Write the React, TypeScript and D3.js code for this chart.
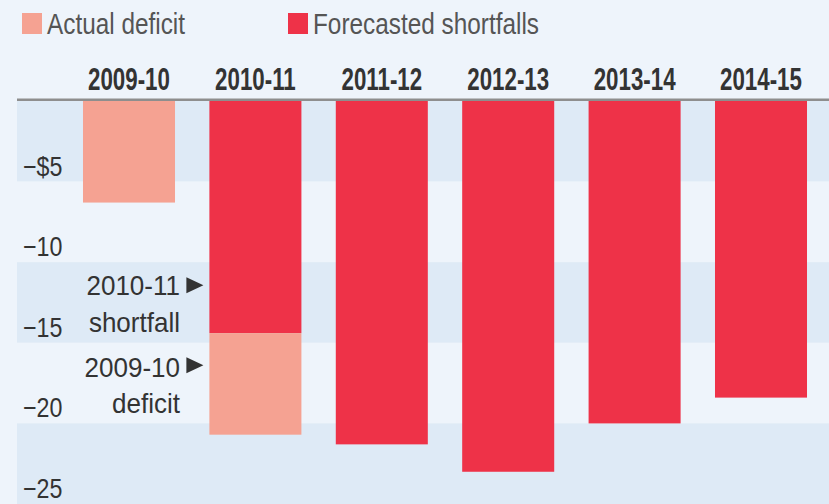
import React from "react";
import * as d3 from "d3";

const categories = ["2009-10", "2010-11", "2011-12", "2012-13", "2013-14", "2014-15"];
const shortfall = [0, 14.4, 21.3, 23.0, 20.0, 18.4];
const deficit = [6.3, 6.3, 0, 0, 0, 0];
const tickValues = [5, 10, 15, 20, 25];
const tickLabels = ["\u2212$5", "\u221210", "\u221215", "\u221220", "\u221225"];
const legendLabels = ["Actual deficit", "Forecasted shortfalls"];
const annotShortfall = ["2010-11", "shortfall"];
const annotDeficit = ["2009-10", "deficit"];

const W = 829;
const H = 504;
const RED = "#ee3248";
const PINK = "#f5a292";
const BG = "#eef4fb";
const BAND = "#deeaf6";
const FONT = "'Liberation Sans', Arial, sans-serif";

export default function App() {
  const x = d3
    .scaleBand<string>()
    .domain(categories)
    .range([65.8, 824.2])
    .paddingInner(0.272)
    .paddingOuter(0.136);
  const y = d3.scaleLinear().domain([0, 25]).range([101, 504]);

  const rows = categories.map((c, i) => ({ cat: c, shortfall: shortfall[i], deficit: deficit[i] }));
  const series = d3.stack<any>().keys(["shortfall", "deficit"])(rows);
  const colors: Record<string, string> = { shortfall: RED, deficit: PINK };

  const plotLeft = 17;
  const bands = tickValues.map((v, i) => ({ y0: i === 0 ? 0 : tickValues[i - 1], y1: v, dark: i % 2 === 0 }));

  const annX = 180;
  const c2 = categories[1];
  const redEnd = y(shortfall[1]);
  const triX = (x(c2) as number) - 23;

  return (
    <svg
      width={W}
      height={H}
      style={{ position: "absolute", left: 0, top: 0, display: "block" }}
      fontFamily={FONT}
    >
      <rect x={0} y={0} width={W} height={H} fill={BG} />
      {bands.map((b, i) => (
        <rect
          key={i}
          x={plotLeft}
          y={y(b.y0)}
          width={W - plotLeft}
          height={y(b.y1) - y(b.y0)}
          fill={b.dark ? BAND : BG}
        />
      ))}
      {tickValues.map((v, i) => (
        <text
          key={v}
          transform={`translate(23,${y(v) - 6}) scale(0.83,1)`}
          fontSize={28}
          fill="#333"
        >
          {tickLabels[i]}
        </text>
      ))}
      {series.map((s) =>
        s.map((d, i) =>
          d[1] - d[0] > 0 ? (
            <rect
              key={s.key + i}
              x={x(categories[i])}
              y={y(d[0])}
              width={x.bandwidth()}
              height={y(d[1]) - y(d[0])}
              fill={colors[s.key]}
            />
          ) : null
        )
      )}
      <line x1={plotLeft} x2={W} y1={99.8} y2={99.8} stroke="#8e8e8e" strokeWidth={2.6} />
      {categories.map((c) => (
        <text
          key={c}
          transform={`translate(${(x(c) as number) + x.bandwidth() / 2},90) scale(0.72,1)`}
          textAnchor="middle"
          fontSize={31}
          fontWeight="bold"
          fill="#333"
        >
          {c}
        </text>
      ))}
      {/* legend */}
      <rect x={22} y={13} width={20} height={21} fill={PINK} />
      <text transform="translate(47,34) scale(0.84,1)" fontSize={29} fill="#555">
        {legendLabels[0]}
      </text>
      <rect x={288} y={13} width={20} height={21} fill={RED} />
      <text transform="translate(313,34) scale(0.84,1)" fontSize={29} fill="#555">
        {legendLabels[1]}
      </text>
      {/* annotations */}
      <text transform={`translate(${annX},${redEnd - 38}) scale(0.93,1)`} textAnchor="end" fontSize={28} fill="#333">
        {annotShortfall[0]}
      </text>
      <text transform={`translate(${annX},${redEnd - 1}) scale(0.93,1)`} textAnchor="end" fontSize={28} fill="#333">
        {annotShortfall[1]}
      </text>
      <path d={`M${triX},${redEnd - 56}L${triX + 17},${redEnd - 48}L${triX},${redEnd - 40}Z`} fill="#333" />
      <text transform={`translate(${annX},${redEnd + 44}) scale(0.93,1)`} textAnchor="end" fontSize={28} fill="#333">
        {annotDeficit[0]}
      </text>
      <text transform={`translate(${annX},${redEnd + 80}) scale(0.93,1)`} textAnchor="end" fontSize={28} fill="#333">
        {annotDeficit[1]}
      </text>
      <path d={`M${triX},${redEnd + 24}L${triX + 17},${redEnd + 32}L${triX},${redEnd + 40}Z`} fill="#333" />
    </svg>
  );
}
